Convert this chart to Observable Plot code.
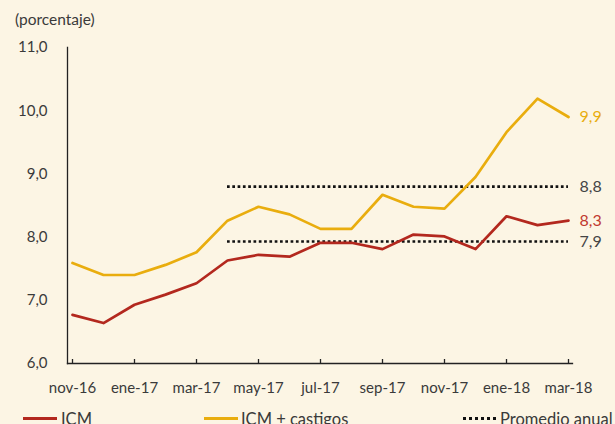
<!DOCTYPE html>
<html>
<head>
<meta charset="utf-8">
<script src="https://cdn.jsdelivr.net/npm/d3@7"></script>
<script src="https://cdn.jsdelivr.net/npm/@observablehq/plot@0.6"></script>
<style>
  html, body { margin: 0; padding: 0; background: #fcf5e4; }
  #wrap { position: relative; width: 615px; height: 424px; overflow: hidden; background: #fcf5e4; font-family: Lato, "Open Sans", sans-serif; color: #3a3a3a; }
  #title { position: absolute; left: 15px; top: 10px; font-size: 15.5px; }
  #chart { position: absolute; left: 0; top: 0; }
  .leg { position: absolute; top: 409px; font-size: 16.5px; white-space: nowrap; }
  .sw { position: absolute; top: 417px; height: 0; }
</style>
</head>
<body>
<div id="wrap">
  <div id="chart"></div>
  <div id="title">(porcentaje)</div>
  <div class="sw" style="left:23px;width:34px;border-top:3px solid #b3281e;"></div>
  <div class="leg" style="left:61px;">ICM</div>
  <div class="sw" style="left:204px;width:34px;border-top:3px solid #e9ad0e;"></div>
  <div class="leg" style="left:241px;">ICM + castigos</div>
  <div class="sw" style="left:463px;width:33px;border-top:3px dotted #111;"></div>
  <div class="leg" style="left:500px;">Promedio anual</div>
</div>
<script>
const months = ["nov-16","dic-16","ene-17","feb-17","mar-17","abr-17","may-17","jun-17","jul-17","ago-17","sep-17","oct-17","nov-17","dic-17","ene-18","feb-18","mar-18"];
const tickMonths = ["nov-16","ene-17","mar-17","may-17","jul-17","sep-17","nov-17","ene-18","mar-18"];
const icm = [6.77,6.64,6.93,7.09,7.27,7.63,7.72,7.69,7.91,7.91,7.81,8.04,8.01,7.81,8.33,8.19,8.26];
const icmCastigos = [7.59,7.40,7.40,7.56,7.76,8.26,8.48,8.36,8.13,8.13,8.67,8.48,8.45,8.95,9.66,10.19,9.90];
const promedioMonths = ["abr-17","mar-18"];
const promedioIcm = 7.93;
const promedioCastigos = 8.80;
const yTicks = [6,7,8,9,10,11];
const endLabels = [
  {text: "9,9", color: "#e9ad0e"},
  {text: "8,8", color: "#444"},
  {text: "8,3", color: "#c13a30"},
  {text: "7,9", color: "#444"}
];
const endLabelY = [9.90, 8.80, 8.26, 7.93];

const fmt = d => d.toFixed(1).replace(".", ",");
const rowsA = months.map((m, i) => ({m, v: icm[i]}));
const rowsB = months.map((m, i) => ({m, v: icmCastigos[i]}));
const avgRows = [
  {x1: promedioMonths[0], x2: promedioMonths[1], y: promedioCastigos},
  {x1: promedioMonths[0], x2: promedioMonths[1], y: promedioIcm}
];
const lbls = endLabels.map((d, i) => ({...d, yy: endLabelY[i], m: months[months.length - 1]}));
const yMin = yTicks[0];

const chart = Plot.plot({
  width: 615,
  height: 400,
  marginLeft: 67,
  marginRight: 43,
  marginTop: 47,
  marginBottom: 37,
  style: {background: "transparent", fontFamily: "Lato, 'Open Sans', sans-serif", color: "#3a3a3a"},
  x: {type: "point", domain: months, padding: 0},
  y: {domain: [6, 11]},
  marks: [
    Plot.frame({anchor: "left", stroke: "#222", strokeWidth: 1.3}),
    Plot.frame({anchor: "bottom", stroke: "#222", strokeWidth: 1.3}),
    // inward tick marks
    Plot.ruleY(yTicks, {y: d => d, x1: months[0], x2: months[0], insetRight: -4, stroke: "#222", strokeWidth: 1.3}),
    Plot.ruleX(tickMonths, {x: d => d, y1: yMin, y2: yMin, insetTop: -4, stroke: "#222", strokeWidth: 1.3}),
    Plot.axisY({ticks: yTicks, tickFormat: fmt, tickSize: 0, tickPadding: 20, label: null, fontSize: 15, fill: "#3a3a3a"}),
    Plot.axisX({ticks: tickMonths, tickSize: 0, tickPadding: 19, label: null, fontSize: 15, fill: "#3a3a3a"}),
    Plot.ruleY(avgRows, {x1: "x1", x2: "x2", y: "y", stroke: "#111", strokeWidth: 2.7, strokeDasharray: "2.7,2.6"}),
    Plot.line(rowsB, {x: "m", y: "v", stroke: "#e9ad0e", strokeWidth: 2.7}),
    Plot.line(rowsA, {x: "m", y: "v", stroke: "#b3281e", strokeWidth: 2.7}),
    Plot.text(lbls, {x: "m", y: "yy", text: "text", fill: "color", dx: 11, textAnchor: "start", fontSize: 16})
  ]
});
document.getElementById("chart").appendChild(chart);
</script>
</body>
</html>
